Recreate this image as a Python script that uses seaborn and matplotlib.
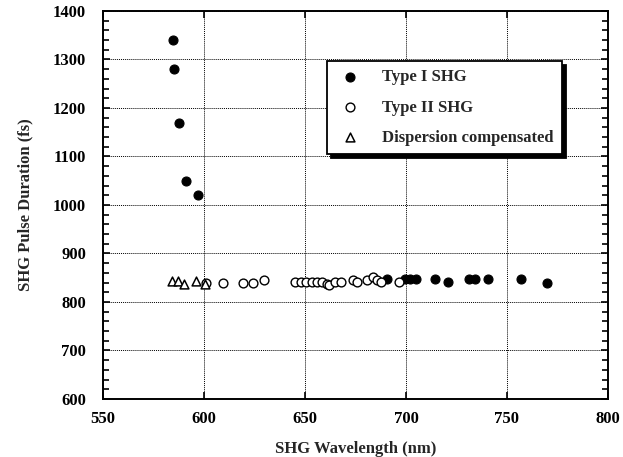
import matplotlib
matplotlib.use('Agg')
import matplotlib.pyplot as plt
import seaborn as sns
from matplotlib.ticker import MultipleLocator

# values
type1_wl = [584.5, 585, 587.8, 591, 597, 690.4, 699.5, 702, 705, 714.5, 721, 731, 734, 740.5, 757, 770]
type1_dur = [1340, 1280, 1168, 1049, 1020, 847, 847, 847, 847, 847, 842, 847, 847, 847, 847, 840]

type2_wl = [601, 609.5, 619.5, 624.5, 630, 645, 648, 650.5, 653.3, 656, 658.7, 660.7, 662,
            664.8, 667.8, 673.6, 676, 680.9, 683.9, 685.8, 687.5, 696.7]
type2_dur = [840, 840, 840, 840, 845, 842, 842, 842, 842, 842, 842, 838, 836,
             842, 842, 845, 842, 845, 851, 845, 842, 842]

disp_wl = [584, 587, 590, 596, 600.5]
disp_dur = [843, 843, 838, 843, 838]

labels = ['Type I SHG', 'Type II SHG', 'Dispersion compensated']

sns.set_style("ticks")
plt.rcParams['font.family'] = ['Liberation Serif', 'DejaVu Serif']
plt.rcParams['font.weight'] = 'bold'
plt.rcParams['axes.labelweight'] = 'bold'

fig = plt.figure(figsize=(6.23, 4.57), dpi=100)
ax = fig.add_axes([0.165, 0.127, 0.811, 0.849])

sns.scatterplot(x=type1_wl, y=type1_dur, ax=ax, marker='o', s=42,
                facecolor='black', edgecolor='black', linewidth=0.8, label=labels[0], zorder=3)
sns.scatterplot(x=type2_wl, y=type2_dur, ax=ax, marker='o', s=40,
                facecolor='white', edgecolor='black', linewidth=1.0, label=labels[1], zorder=3)
sns.scatterplot(x=disp_wl, y=disp_dur, ax=ax, marker='^', s=40,
                facecolor='white', edgecolor='black', linewidth=1.1, label=labels[2], zorder=3)

ax.set_xlim(550, 800)
ax.set_ylim(600, 1400)
ax.xaxis.set_major_locator(MultipleLocator(50))
ax.yaxis.set_major_locator(MultipleLocator(100))
ax.yaxis.set_minor_locator(MultipleLocator(20))
ax.tick_params(which='both', direction='in', top=True, right=True, colors='black',
               labelsize=12)
ax.tick_params(axis='x', pad=9)
ax.tick_params(axis='y', pad=12)
ax.tick_params(which='major', length=5, width=1.2)
ax.tick_params(which='minor', length=4, width=1.2)
ax.grid(True, which='major', linestyle=(0, (1, 1)), color='black', linewidth=0.7)
for sp in ax.spines.values():
    sp.set_linewidth(1.4)
    sp.set_color('black')

ax.set_xlabel('SHG Wavelength (nm)', fontsize=12, labelpad=10)
ax.set_ylabel('SHG Pulse Duration (fs)', fontsize=12, labelpad=14)

leg = ax.legend(loc='upper left', bbox_to_anchor=(0.444, 0.871), fontsize=12,
                frameon=True, fancybox=False, edgecolor='black', framealpha=1,
                shadow={'color': 'black', 'alpha': 1, 'ox': 3, 'oy': -3},
                labelspacing=0.85, borderpad=0.5, handletextpad=1.0,
                handlelength=1.8, borderaxespad=0)
leg.get_frame().set_linewidth(1.3)

fig.savefig('out.png', dpi=100)
